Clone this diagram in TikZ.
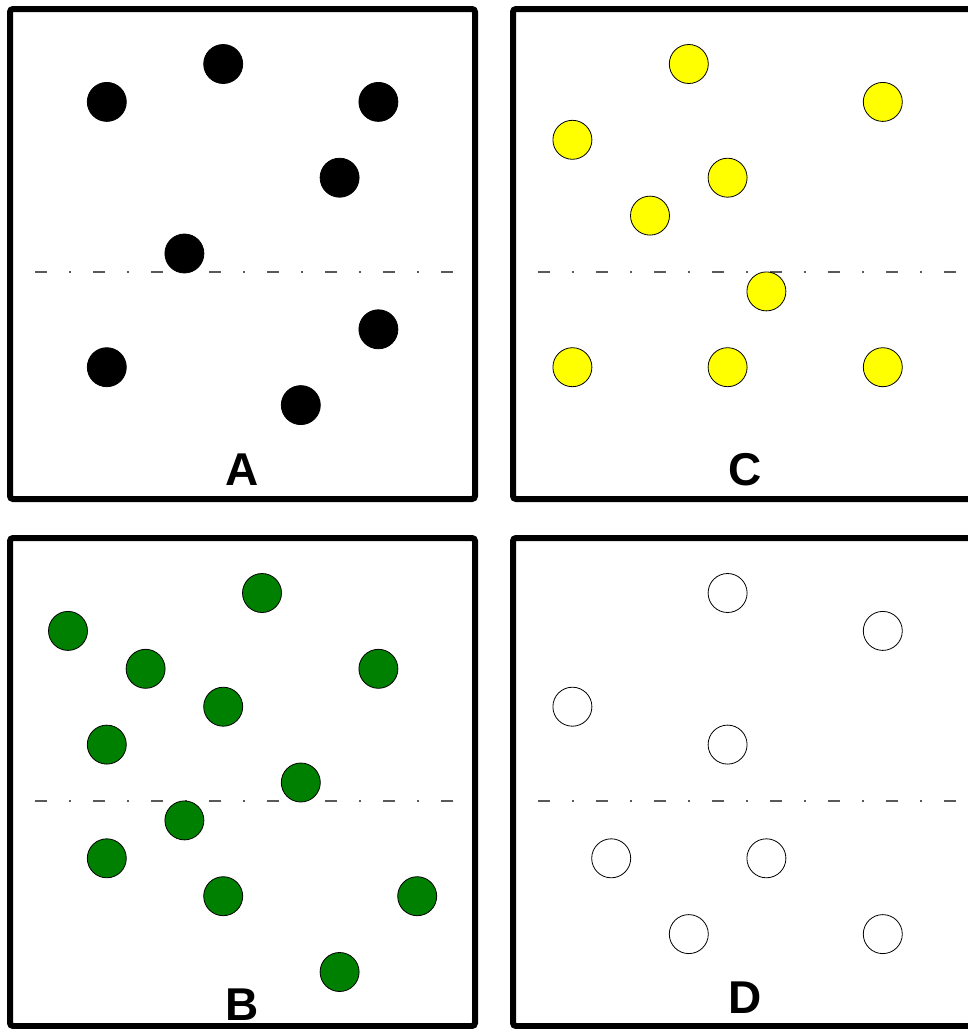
\documentclass[tikz,border=0pt]{standalone}
\usepackage{fontspec}
\setmainfont{Liberation Sans}
\usetikzlibrary{positioning}
\definecolor{dotyellow}{RGB}{255,255,0}
\definecolor{dotgreen}{RGB}{0,128,0}
\tikzset{
  panel/.style={draw,line width=6pt,rounded corners=3pt},
  midline/.style={gray!70!black,line width=1.3pt,dash pattern=on 12pt off 22pt on 2pt off 22pt},
  dot/.style={draw,circle,minimum size=39pt,inner sep=0,line width=0.8pt},
  tag/.style={font=\fontsize{46}{46}\selectfont\bfseries,inner sep=0},
}
\begin{document}
\begin{tikzpicture}[x=1pt,y=-1pt]
\clip (0,0) rectangle (968,1029);
\fill[white] (0,0) rectangle (968,1029);
% grid: column k at 29.2+38.8k, row k at 26.1+37.9k
\def\gx#1{29.2+38.8*#1}
\def\gy#1{26.1+37.9*#1}
% panels
\draw[panel] (10,9) rectangle (475,499);
\draw[panel] (513,9) rectangle (978,499);
\draw[panel] (10,538) rectangle (475,1026);
\draw[panel] (513,538) rectangle (978,1026);
% dash-dot centre lines
\draw[midline] (35,272) -- (460,272);
\draw[midline] (538,272) -- (968,272);
\draw[midline] (35,801) -- (460,801);
\draw[midline] (538,801) -- (968,801);
% A: black
\foreach \c/\r [count=\i] in {2/2,5/1,9/2,8/4,4/6,9/8,2/9,7/10}
  \node[dot,fill=black] (a\i) at ({\gx{\c}},{\gy{\r}}) {};
% C: yellow
\foreach \c/\r [count=\i] in {17/1,22/2,14/3,18/4,16/5,19/7,14/9,18/9,22/9}
  \node[dot,fill=dotyellow] (c\i) at ({\gx{\c}},{\gy{\r}}) {};
% B: green
\foreach \c/\r [count=\i] in {6/1,1/2,3/3,9/3,5/4,2/5,7/6,4/7,2/8,5/9,10/9,8/11}
  \node[dot,fill=dotgreen] (b\i) at ({\gx{\c}},{\gy{\r}+529}) {};
% D: white
\foreach \c/\r [count=\i] in {18/1,22/2,14/4,18/5,15/8,19/8,17/10,22/10}
  \node[dot,fill=white] (d\i) at ({\gx{\c}},{\gy{\r}+529}) {};
% labels
\node[tag] (lA) at (242,470) {A};
\node[tag] (lC) at (745,470) {C};
\node[tag] (lB) at (242,1005) {B};
\node[tag] (lD) at (745,998) {D};
\end{tikzpicture}
\end{document}
